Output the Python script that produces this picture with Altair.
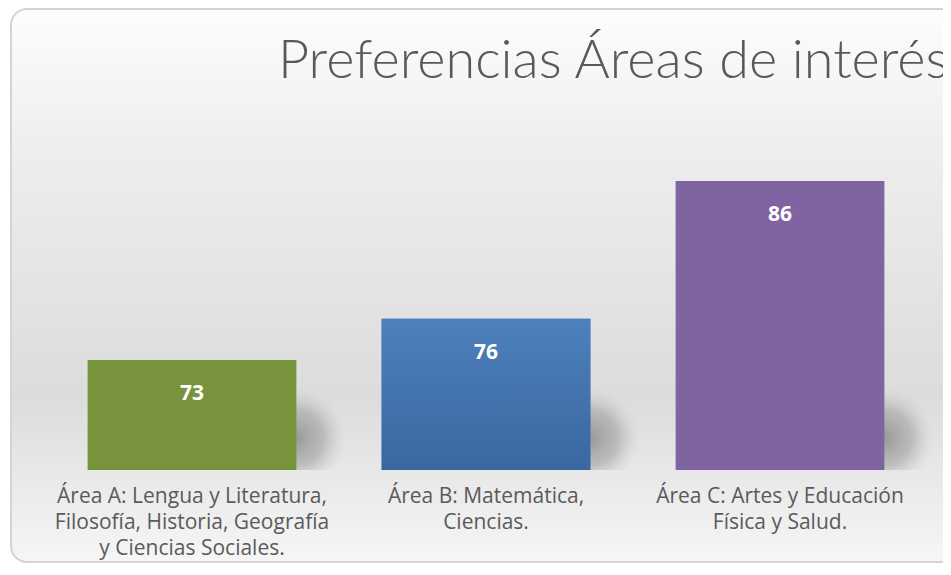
import altair as alt
import pandas as pd

categories = [
    "Área A: Lengua y Literatura,\nFilosofía, Historia, Geografía\ny Ciencias Sociales.",
    "Área B: Matemática,\nCiencias.",
    "Área C: Artes y Educación\nFísica y Salud.",
]
values = [73, 76, 86]
colors = ["#77933c", "#4a7dba", "#8064a2"]
title_text = "Preferencias Áreas de interés"
axis_min, axis_max = 65, 90

df = pd.DataFrame({"area": categories, "valor": values})

W, H = 882, 344
PL, PT, PR, PB = 37, 118, 16, 93

xenc = alt.X("area:N", sort=categories,
             scale=alt.Scale(paddingInner=0.29, paddingOuter=0.145),
             axis=alt.Axis(title=None, labelAngle=0, ticks=False, domain=False,
                           labelExpr="split(datum.label, '\\n')", zindex=2,
                           labelFont="Open Sans", labelFontSize=21, labelColor="#5a5a5a",
                           labelLineHeight=26, labelPadding=15, labelLimit=400))
yenc = alt.Y("valor:Q", scale=alt.Scale(domain=[axis_min, axis_max], zero=False, nice=False),
             axis=None)
y2enc = alt.Y2(datum=axis_min)

bg = alt.Chart(pd.DataFrame({"k": [0]})).mark_rect(
    cornerRadius=16, stroke="#d4d4d4", strokeWidth=2,
    fill=alt.Gradient(gradient="linear", x1=0, y1=0, x2=0, y2=1,
                      stops=[alt.GradientStop(offset=0, color="#fdfdfd"),
                             alt.GradientStop(offset=0.25, color="#eeeeee"),
                             alt.GradientStop(offset=0.7, color="#dcdcdc"),
                             alt.GradientStop(offset=1, color="#f6f6f6")])
).encode(x=alt.value(-PL + 3), x2=alt.value(W + 60),
         y=alt.value(-PT + 1), y2=alt.value(H + PB - 1))

shadow = alt.Chart(df).mark_bar(
    size=100, xOffset=154,
    fill=alt.Gradient(gradient="radial", x1=0, y1=0.6, r1=0, x2=0, y2=0.6, r2=0.5,
                      stops=[alt.GradientStop(offset=0, color="rgba(140,140,140,0.85)"),
                             alt.GradientStop(offset=0.55, color="rgba(160,160,160,0.6)"),
                             alt.GradientStop(offset=1, color="rgba(200,200,200,0)")])
).encode(x=xenc, y=alt.value(H - 84), y2=alt.value(H))

bars = alt.Chart(df).mark_bar().encode(
    x=xenc, y=yenc, y2=y2enc,
    color=alt.Color("area:N", scale=alt.Scale(domain=categories, range=colors), legend=None),
)

blue = alt.Chart(df).transform_filter(alt.datum.valor == 76).mark_bar(
    fill=alt.Gradient(gradient="linear", x1=0, y1=0, x2=0, y2=1,
                      stops=[alt.GradientStop(offset=0, color="#4d80bd"),
                             alt.GradientStop(offset=1, color="#3b67a1")])
).encode(x=xenc, y=yenc, y2=y2enc)

labels = alt.Chart(df).mark_text(
    font="Open Sans", fontWeight="bold", fontSize=21, color="white",
    baseline="middle", dy=34
).encode(x=xenc, y=yenc, text="valor:Q")

title = alt.Chart(pd.DataFrame({"t": [title_text]})).mark_text(
    font="Lato", fontSize=54, fontWeight=300, color="#595959", align="left",
    baseline="alphabetic"
).encode(x=alt.value(233), y=alt.value(-48), text="t:N")

chart = alt.layer(bg, shadow, bars, blue, labels, title).properties(
    width=W, height=H,
    padding={"left": PL, "top": PT, "right": PR, "bottom": PB},
    autosize=alt.AutoSizeParams(type="none"),
    background="white",
).configure_view(stroke=None)

chart.save("out.html", embed_options={"renderer": "svg", "actions": False})
